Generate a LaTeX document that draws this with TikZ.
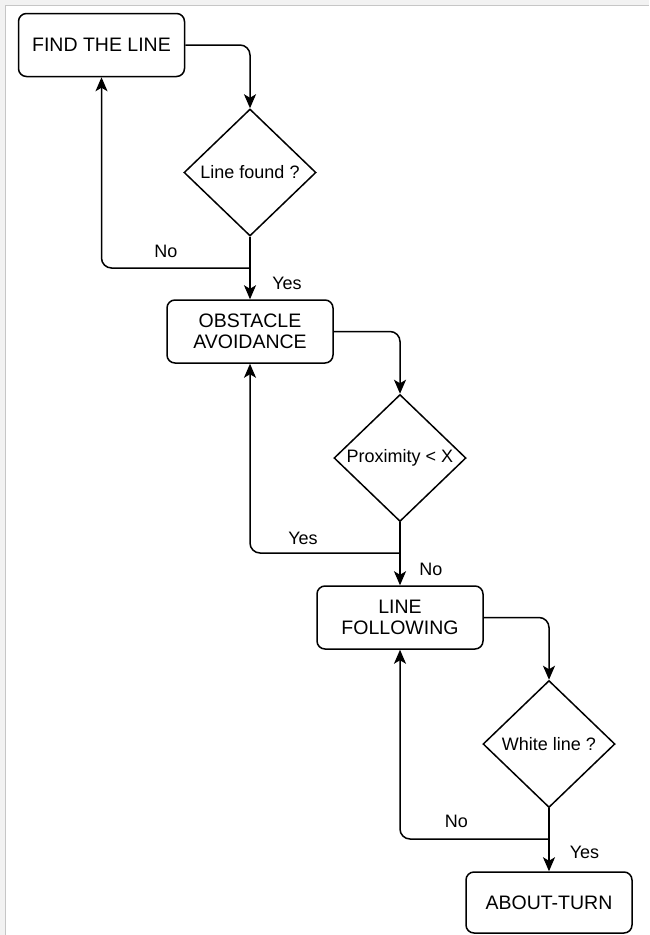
\documentclass[tikz,border=0pt]{standalone}
\usepackage{fontspec}
\setmainfont{Liberation Sans}
\usetikzlibrary{positioning,arrows.meta,shapes.geometric}

\begin{document}
\begin{tikzpicture}[x=1pt, y=-1pt, >={Stealth[length=14pt,width=12pt,inset=3.5pt]}, line width=1.5pt,
  state/.style = {rectangle, draw, rounded corners=8pt, minimum width=166pt, minimum height=63pt, align=center, inner sep=2pt, font=\fontsize{19.5}{20.5}\selectfont},
  check/.style = {diamond, draw, minimum width=132pt, minimum height=127pt, inner sep=0pt, font=\fontsize{18}{20}\selectfont},
  answer/.style = {inner sep=0pt, font=\fontsize{18}{20}\selectfont},
  flow/.style = {->, rounded corners=10pt}]

\useasboundingbox (0,0) rectangle (649,935);
% window frame
\fill[gray!10] (0,0) rectangle (649,5);
\fill[gray!10] (0,0) rectangle (5,935);
\draw[gray!45, line width=1pt] (5.5,935) -- (5.5,5.5) -- (649,5.5);

\node[state] (find) at (101.5,45) {FIND THE LINE};
\node[check] (found) at (250,172.5) {Line found ?};
\node[state] (obstacle) at (250,331.5) {OBSTACLE\\AVOIDANCE};
\node[check] (prox) at (400,458) {Proximity < X};
\node[state] (follow) at (400,617.5) {LINE\\FOLLOWING};
\node[check] (white) at (549,744) {White line ?};
\node[state, minimum height=61pt] (turn) at (549,902.5) {ABOUT-TURN};

\coordinate (j1) at (250,268);
\coordinate (j2) at (400,553);
\coordinate (j3) at (549,839);

\node[answer] (no1) at (166,251) {No};
\node[answer] (yes1) at (287,283) {Yes};
\node[answer] (yes2) at (303,538) {Yes};
\node[answer] (no2) at (431,569.5) {No};
\node[answer] (no3) at (456.5,821.5) {No};
\node[answer] (yes3) at (584.5,852.5) {Yes};

\draw[flow] (find.east) -| (found.north);
\draw[->] (found.south) -- (obstacle.north);
\draw[flow] (j1) -| (find.south);

\draw[flow] (obstacle.east) -| (prox.north);
\draw[->] (prox.south) -- (follow.north);
\draw[flow] (j2) -| (obstacle.south);

\draw[flow] (follow.east) -| (white.north);
\draw[->] (white.south) -- (turn.north);
\draw[flow] (j3) -| (follow.south);
\end{tikzpicture}
\end{document}
